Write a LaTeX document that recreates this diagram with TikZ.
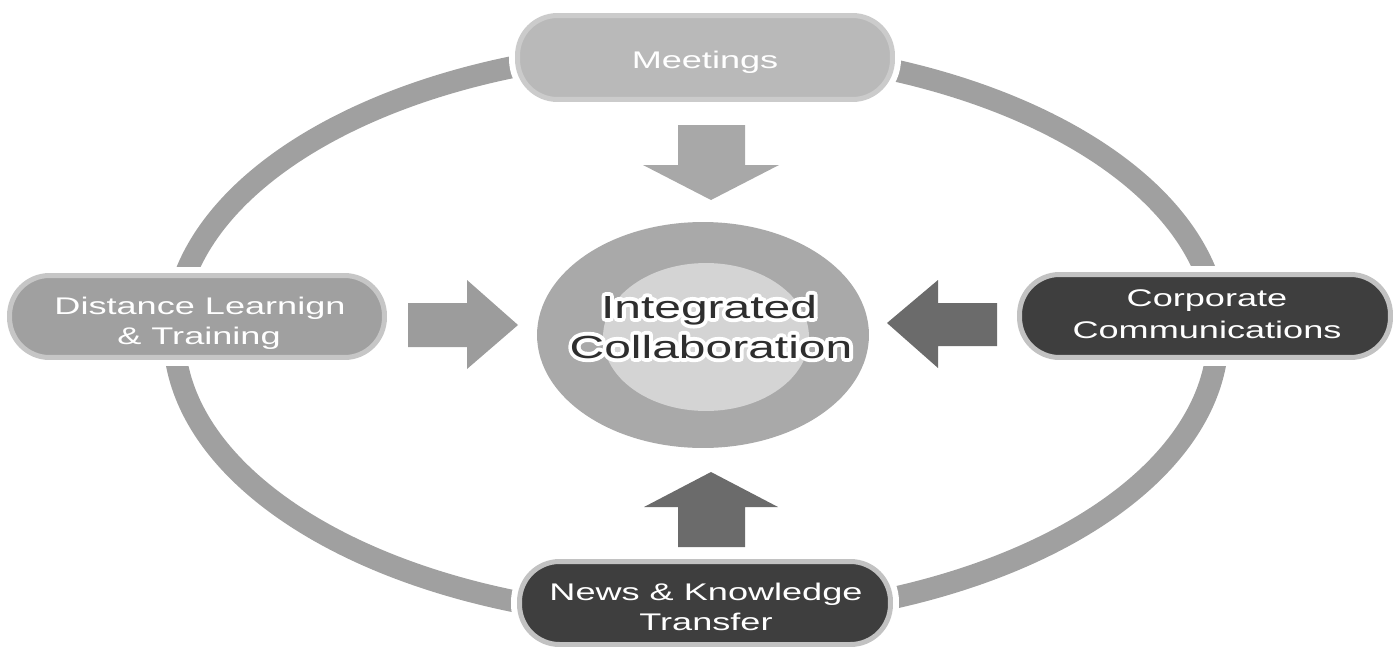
\documentclass[tikz,border=0pt]{standalone}
\usepackage{fontspec}
\setmainfont{Liberation Sans}[FakeStretch=1.5]
\usetikzlibrary{shapes.geometric}
\definecolor{ringgray}{HTML}{A0A0A0}
\definecolor{meetfill}{HTML}{B9B9B9}
\definecolor{meetborder}{HTML}{CBCBCB}
\definecolor{distfill}{HTML}{A0A0A0}
\definecolor{distborder}{HTML}{C6C6C6}
\definecolor{darkfill}{HTML}{3E3E3E}
\definecolor{darkborder}{HTML}{C2C2C2}
\definecolor{arrowtop}{HTML}{A8A8A8}
\definecolor{arrowleft}{HTML}{9C9C9C}
\definecolor{arrowdark}{HTML}{6B6B6B}
\definecolor{outerell}{HTML}{A9A9A9}
\definecolor{innerell}{HTML}{D4D4D4}
\definecolor{centertext}{HTML}{2E2E2E}
% white halo drawn as a stroke under the glyphs
\newcommand{\halotext}[1]{\leavevmode\rlap{\special{pdf:code q 1 1 1 RG 1 1 1 rg 4.4 w 1 j 1 J 1 Tr}#1\special{pdf:code 0 Tr Q}}#1}
\tikzset{
  pill/.style={rectangle, rounded corners=0.8cm, line width=0.1cm,
    minimum width=7.5cm, minimum height=1.66cm, inner sep=0pt,
    preaction={draw=white, line width=0.34cm}},
  lbl/.style={anchor=base, inner sep=0pt, text=white,
    font=\fontsize{13.7pt}{17pt}\selectfont},
  ctr/.style={anchor=base, inner sep=0pt, text=centertext,
    font=\fontsize{18.2pt}{22.8pt}\selectfont},
}
\begin{document}
\begin{tikzpicture}[x=0.02cm,y=-0.02cm]
\useasboundingbox (0,0) rectangle (1399,646);
% ring
\draw[ringgray, line width=0.44cm] (696,334) ellipse [x radius=522, y radius=285];
% nodes
\node[pill, fill=meetfill, draw=meetborder, minimum width=7.5cm, minimum height=1.68cm] (meet) at (705,57.5) {};
\node[pill, fill=distfill, draw=distborder, minimum width=7.5cm, minimum height=1.64cm] (dist) at (197,316.5) {};
\node[pill, fill=darkfill, draw=darkborder, minimum width=7.42cm, minimum height=1.66cm] (corp) at (1205,316) {};
\node[pill, fill=darkfill, draw=darkborder, minimum width=7.42cm, minimum height=1.66cm] (news) at (705,603) {};
\node[lbl] (meetT) at (705,68) {Meetings};
\node[lbl] (distT1) at (200,314) {Distance Learnign};
\node[lbl] (distT2) at (199,344) {\& Training};
\node[lbl] (corpT1) at (1207,306) {Corporate};
\node[lbl] (corpT2) at (1207,338) {Communications};
\node[lbl] (newsT1) at (706,600) {News \& Knowledge};
\node[lbl] (newsT2) at (706,630) {Transfer};
% center
\node[ellipse, fill=outerell, minimum width=6.64cm, minimum height=4.52cm, inner sep=0pt] (outer) at (703,335) {};
\node[ellipse, fill=innerell, minimum width=4.12cm, minimum height=2.96cm, inner sep=0pt] (inner) at (706,337) {};
\node[ctr] (title1) at (709,318) {\halotext{Integrated}};
\node[ctr] (title2) at (711,358) {\halotext{Collaboration}};
% block arrows
\fill[arrowtop] (678,125) -- (745,125) -- (745,165) -- (779,165) -- (711,200) -- (643,165) -- (678,165) -- cycle;
\fill[arrowleft] (408,303) -- (467,303) -- (467,280) -- (518,325) -- (467,369) -- (467,347) -- (408,347) -- cycle;
\fill[arrowdark] (997,303) -- (938,303) -- (938,280) -- (887,323) -- (938,368) -- (938,346) -- (997,346) -- cycle;
\fill[arrowdark] (678,547) -- (745,547) -- (745,507) -- (778,507) -- (711,472) -- (644,507) -- (678,507) -- cycle;
\end{tikzpicture}
\end{document}
